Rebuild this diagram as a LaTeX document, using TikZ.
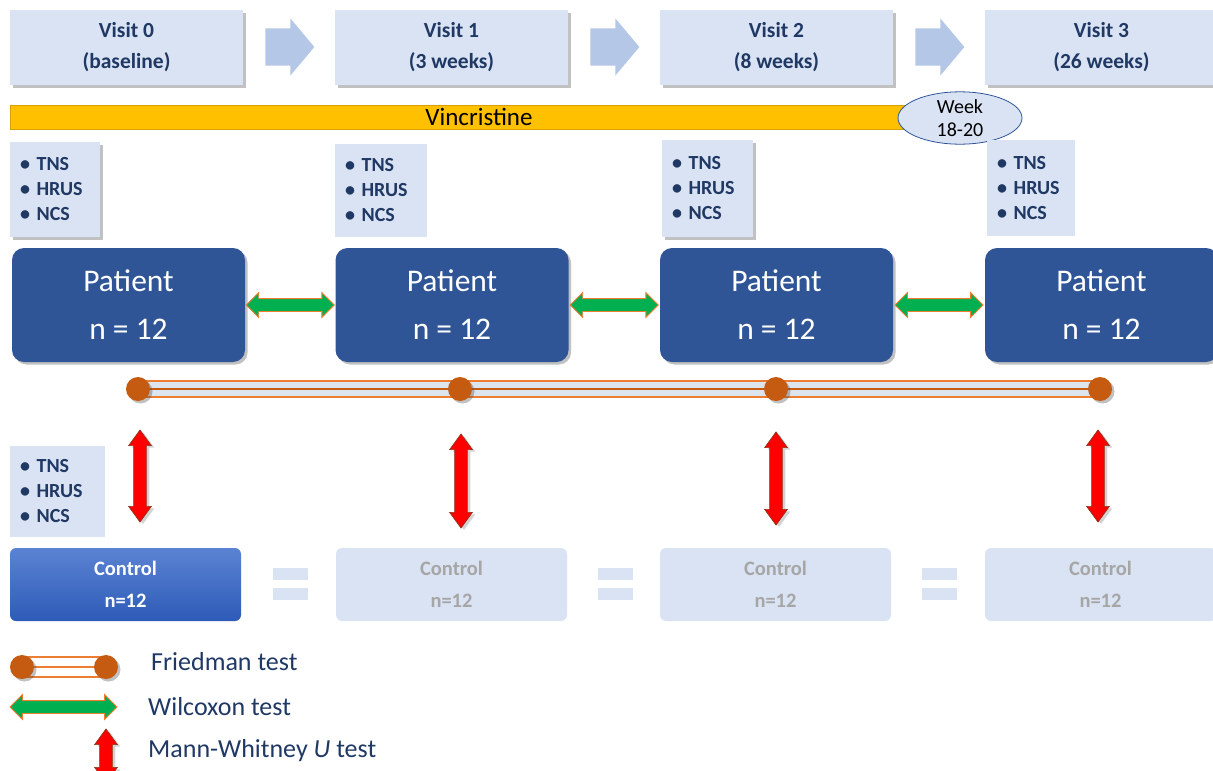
\documentclass[tikz,border=0pt]{standalone}
\usepackage{fontspec}
\setmainfont{Carlito}
\usetikzlibrary{shapes.geometric,shapes.arrows,shadows,calc}
\definecolor{lb}{HTML}{DAE3F3}
\definecolor{navy}{HTML}{1F3864}
\definecolor{pblue}{HTML}{2F5597}
\definecolor{vgold}{HTML}{FFC000}
\definecolor{vgoldb}{HTML}{D9A000}
\definecolor{forange}{HTML}{C55A11}
\definecolor{lorange}{HTML}{ED7D31}
\definecolor{wgreen}{HTML}{00B050}
\definecolor{varrow}{HTML}{B4C7E7}
\definecolor{ctop}{HTML}{5B83D3}
\definecolor{cbot}{HTML}{2E5BB8}
\definecolor{gtext}{HTML}{A6A6A6}
\definecolor{fband}{HTML}{DCE4EE}
\definecolor{ellb}{HTML}{2F5597}
\tikzset{
  shad/.style={drop shadow={shadow xshift=2.5pt,shadow yshift=-2.5pt,opacity=0.35,fill=black!70}},
  visitbox/.style={fill=lb,minimum width=233pt,minimum height=75pt,inner sep=0pt,align=center,
    text=navy,font=\fontsize{21.5}{31}\selectfont\bfseries,shad},
  visitarrow/.style={single arrow,fill=varrow,draw=none,minimum height=49pt,inner xsep=0pt,inner ysep=18.5pt,
    single arrow head extend=10pt,single arrow tip angle=100},
  bulletbox/.style={fill=lb,inner xsep=10pt,inner ysep=0pt,align=left,
    text=navy,font=\fontsize{20}{25}\selectfont\bfseries},
  patbox/.style={fill=pblue,rounded corners=12pt,minimum width=233pt,minimum height=114pt,inner sep=0pt,
    align=center,text=white,font=\fontsize{31.5}{48}\selectfont,shad},
  greenarrow/.style={double arrow,fill=wgreen,draw=lorange,line width=0.8pt,minimum height=88pt,
    inner xsep=0pt,inner ysep=6pt,double arrow head extend=6pt,double arrow tip angle=90},
  redarrow/.style={double arrow,fill=red,draw=black!55!red!60!brown,line width=0.7pt,
    inner xsep=0pt,inner ysep=6pt,double arrow head extend=5pt,double arrow tip angle=72,rotate=90,
    drop shadow={shadow xshift=3pt,shadow yshift=-2pt,opacity=0.35}},
  fdot/.style={circle,fill=forange,inner sep=0pt,minimum size=24pt},
  ctrlbox/.style={rounded corners=6pt,minimum width=231pt,minimum height=73pt,inner sep=0pt,align=center,
    font=\fontsize{20.5}{32}\selectfont\bfseries},
  eqbar/.style={fill=lb,minimum width=35pt,minimum height=12pt,inner sep=0pt},
  legtext/.style={anchor=west,text=navy,font=\fontsize{26}{28}\selectfont,inner sep=0pt}
}
\begin{document}
\begin{tikzpicture}[x=1pt,y=-1pt]
\useasboundingbox (0,0) rectangle (1213,771);
\clip (0,0) rectangle (1213,771);
% visits
\node[visitbox] (v0) at (126.5,47.5) {Visit 0\\(baseline)};
\node[visitbox] (v1) at (451.5,47.5) {Visit 1\\(3 weeks)};
\node[visitbox] (v2) at (776.5,47.5) {Visit 2\\(8 weeks)};
\node[visitbox] (v3) at (1101.5,47.5) {Visit 3\\(26 weeks)};
\node[visitarrow] (a01) at (282,47) {};
\node[visitarrow] (a12) at (607,47) {};
\node[visitarrow] (a23) at (932,47) {};
% vincristine
\node[fill=vgold,draw=vgoldb,line width=0.8pt,minimum width=938pt,minimum height=24pt,inner sep=0pt,
  font=\fontsize{25}{26}\selectfont] (vin) at (479,117) {Vincristine};
\node[ellipse,fill=lb,draw=ellb,line width=0.8pt,minimum width=124pt,minimum height=52pt,inner sep=0pt,
  align=center,font=\fontsize{20}{23}\selectfont] (wk) at (960,118) {Week\\18-20};
% bullet boxes
\node[bulletbox,text width=70pt,minimum height=95pt,shad] (b0) at (55,189.5) {• TNS\\• HRUS\\• NCS};
\node[bulletbox,text width=72pt,minimum height=93pt] (b1) at (381,190.5) {• TNS\\• HRUS\\• NCS};
\node[bulletbox,text width=71pt,minimum height=97pt,shad] (b2) at (707.5,188.5) {• TNS\\• HRUS\\• NCS};
\node[bulletbox,text width=68pt,minimum height=96pt] (b3) at (1031,188) {• TNS\\• HRUS\\• NCS};
\node[bulletbox,text width=75pt,minimum height=91pt] (bc) at (57.5,491.5) {• TNS\\• HRUS\\• NCS};
% patients
\node[patbox] (p0) at (128.5,305) {Patient\\n = 12};
\node[patbox] (p1) at (452,305) {Patient\\n = 12};
\node[patbox] (p2) at (776.5,305) {Patient\\n = 12};
\node[patbox] (p3) at (1101.5,305) {Patient\\n = 12};
\node[greenarrow] (w01) at ($(p0.east)!0.5!(p1.west)$) {};
\node[greenarrow] (w12) at ($(p1.east)!0.5!(p2.west)$) {};
\node[greenarrow] (w23) at ($(p2.east)!0.5!(p3.west)$) {};
% friedman
\coordinate (f0) at (138,389);
\coordinate (f1) at (460,389);
\coordinate (f2) at (776,389);
\coordinate (f3) at (1100,389);
\fill[fband] ($(f0)+(0,-8)$) rectangle ($(f3)+(0,8)$);
\draw[lorange,line width=1.6pt] ($(f0)+(0,-8)$) -- ($(f3)+(0,-8)$);
\draw[lorange,line width=1.6pt] ($(f0)+(0,8)$) -- ($(f3)+(0,8)$);
\draw[forange,line width=1.6pt] (f0) -- (f3);
\node[fdot,shad] (d0) at (f0) {};
\node[fdot,shad] (d1) at (f1) {};
\node[fdot,shad] (d2) at (f2) {};
\node[fdot,shad] (d3) at (f3) {};
% controls
\node[ctrlbox,top color=ctop,bottom color=cbot,text=white] (c0) at (125.5,584.5) {Control\\n=12};
\node[ctrlbox,fill=lb,text=gtext] (c1) at (451.5,584.5) {Control\\n=12};
\node[ctrlbox,fill=lb,text=gtext] (c2) at (775.5,584.5) {Control\\n=12};
\node[ctrlbox,fill=lb,text=gtext] (c3) at (1100.5,584.5) {Control\\n=12};
\node[eqbar] (e0a) at (290.5,574) {};
\node[eqbar] (e0b) at (290.5,594) {};
\node[eqbar] (e1a) at (615.5,574) {};
\node[eqbar] (e1b) at (615.5,594) {};
\node[eqbar] (e2a) at (939.5,574) {};
\node[eqbar] (e2b) at (939.5,594) {};
% red arrows
\node[redarrow,minimum height=92pt] (r0) at (140,476) {};
\node[redarrow,minimum height=94pt] (r1) at (461,481) {};
\node[redarrow,minimum height=93pt] (r2) at (776,478.5) {};
\node[redarrow,minimum height=92pt] (r3) at (1098,476) {};
% legend
\coordinate (lf1) at (22,667);
\coordinate (lf2) at (106,667);
\fill[white] ($(lf1)+(0,-10)$) rectangle ($(lf2)+(0,10)$);
\draw[lorange,line width=1.6pt] ($(lf1)+(0,-10)$) -- ($(lf2)+(0,-10)$);
\draw[lorange,line width=1.6pt] ($(lf1)+(0,10)$) -- ($(lf2)+(0,10)$);
\draw[lorange,line width=1.6pt] (lf1) -- (lf2);
\node[fdot,shad] (lfd1) at (lf1) {};
\node[fdot,shad] (lfd2) at (lf2) {};
\node[greenarrow,minimum height=107pt] (lw) at (63.5,707) {};
\node[redarrow,minimum height=54pt] (lr) at (106,756) {};
\node[legtext] (t1) at (151,662) {Friedman test};
\node[legtext] (t2) at (148,707) {Wilcoxon test};
\node[legtext] (t3) at (148,751) {Mann-Whitney \textit{U} test};
\end{tikzpicture}
\end{document}
